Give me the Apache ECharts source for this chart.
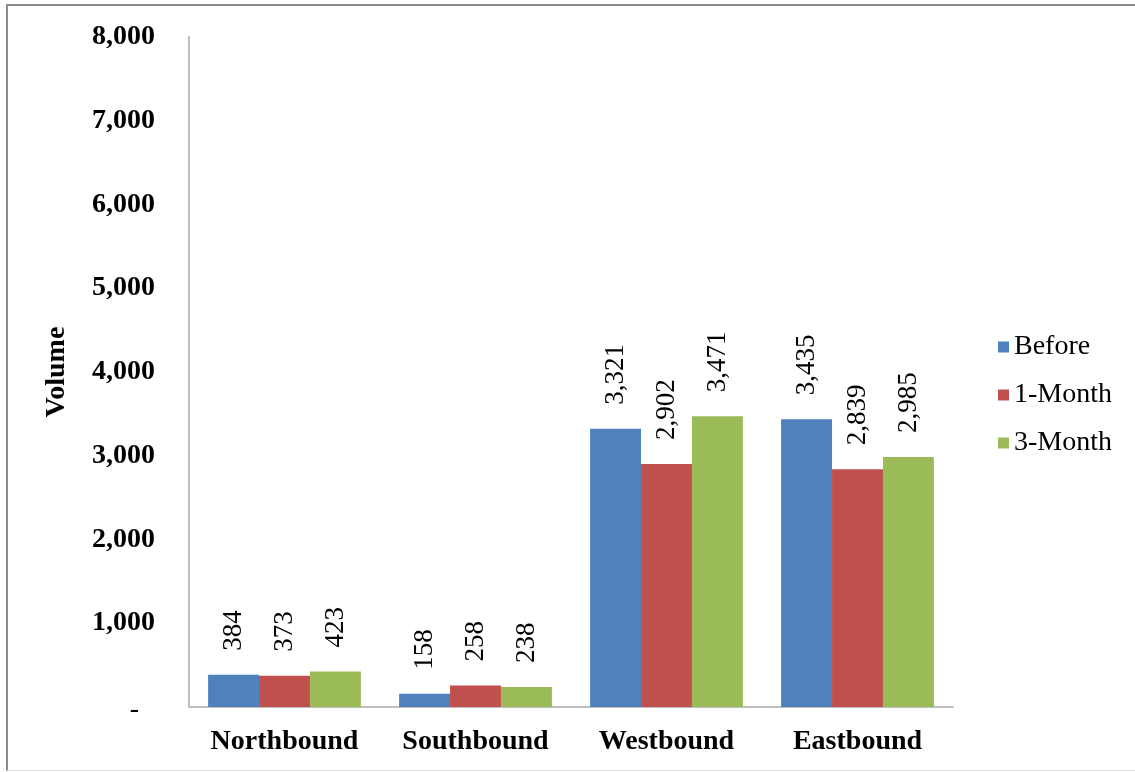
<!DOCTYPE html>
<html>
<head>
<meta charset="utf-8">
<script src="https://cdn.jsdelivr.net/npm/echarts@6/dist/echarts.min.js"></script>
<style>
html,body{margin:0;padding:0;background:#fff;}
#chart{position:absolute;left:0;top:0;width:1135px;height:772px;}
#frame{position:absolute;left:6px;top:4px;width:1135px;height:764px;border-top:2px solid #8c8c8c;border-left:2px solid #8c8c8c;border-bottom:1px solid #e0e0e0;pointer-events:none;}
</style>
</head>
<body>
<div id="chart"></div>
<div id="frame"></div>
<script>
const categories = ['Northbound', 'Southbound', 'Westbound', 'Eastbound'];
const seriesNames = ['Before', '1-Month', '3-Month'];
const beforeValues = [384, 158, 3321, 3435];
const oneMonthValues = [373, 258, 2902, 2839];
const threeMonthValues = [423, 238, 3471, 2985];
const yTicks = [0, 1000, 2000, 3000, 4000, 5000, 6000, 7000, 8000];

const colors = ['#4F81BD', '#C0504D', '#9BBB59'];
const serif = '"Liberation Serif", "Times New Roman", serif';
const fmt = v => v.toString().replace(/\B(?=(\d{3})+(?!\d))/g, ',');

const chart = echarts.init(document.getElementById('chart'));
const mk = (name, data, i) => ({
  name, type: 'bar', data,
  barGap: '0%', barCategoryGap: '20%',
  itemStyle: { color: colors[i] },
  label: {
    show: true, position: 'top', rotate: 90, distance: 24,
    align: 'left', verticalAlign: 'middle',
    fontFamily: serif, fontSize: 27, color: '#000',
    formatter: p => fmt(p.value)
  }
});
chart.setOption({
  animation: false,
  grid: { left: 189, right: 182, top: 37, bottom: 65 },
  legend: {
    orient: 'vertical', left: 993, top: 328,
    itemWidth: 11, itemHeight: 11, itemGap: 20,
    icon: 'rect',
    textStyle: { fontFamily: serif, fontSize: 28, lineHeight: 28, color: '#000' },
    data: seriesNames
  },
  xAxis: {
    type: 'category', data: categories,
    axisLine: { lineStyle: { color: '#bfbfbf', width: 2 } },
    axisTick: { show: false },
    axisLabel: { interval: 0, hideOverlap: false, fontFamily: serif, fontSize: 28, fontWeight: 'bold', color: '#000', margin: 21 }
  },
  yAxis: {
    type: 'value', min: yTicks[0], max: yTicks[yTicks.length - 1], interval: 1000,
    name: 'Volume', nameLocation: 'middle', nameGap: 118, nameRotate: 90,
    nameTextStyle: { fontFamily: serif, fontSize: 28, fontWeight: 'bold', color: '#000' },
    axisLine: { show: true, lineStyle: { color: '#bfbfbf', width: 2 } },
    axisTick: { show: false },
    splitLine: { show: false },
    axisLabel: {
      fontFamily: serif, fontSize: 28, fontWeight: 'bold', color: '#000', margin: 34,
      formatter: v => v === 0 ? '{d|-}' : fmt(v),
      rich: { d: { fontFamily: serif, fontSize: 28, fontWeight: 'normal', color: '#000', padding: [6, 16, 0, 0] } }
    }
  },
  series: [
    mk(seriesNames[0], beforeValues, 0),
    mk(seriesNames[1], oneMonthValues, 1),
    mk(seriesNames[2], threeMonthValues, 2)
  ]
});
</script>
</body>
</html>
